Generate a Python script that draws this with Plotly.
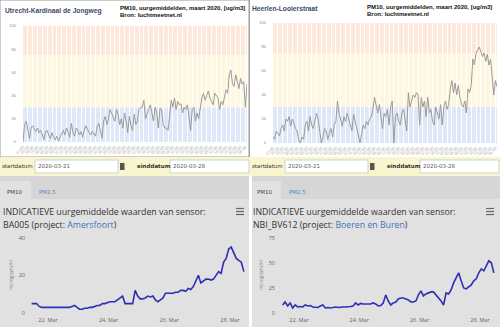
import pandas as pd
import plotly.graph_objects as go

W, H = 500, 327

# PM10 hourly values, luchtmeetnet stations (ug/m3)
utrecht_pm10 = [
    0, 15, 18, 10, 3, 12, 14, 11, 9, 12, 8, 10, 5, 2, 9, 10, 6, 3, 8, 4, 2, 5, 1, 4, 8, 10, 6, 12, 9, 4, 16,
    8, 5, 12, 10, 6, 9, 4, 10, 14, 11, 8, 6, 9, 7, 5, 13, 16, 10, 3, 18,
    22, 15, 20, 28, 25, 22, 18, 28, 24, 15, 20, 12, 25, 18, 8, 22, 14, 10, 24, 15,
    18, 28, 30, 30, 36, 20, 25, 28, 32, 26, 18, 30, 25, 12, 29, 28, 15, 12, 12, 10,
    25, 36, 30, 38, 28, 35, 32, 33, 25, 30, 28, 32, 22, 10, 28, 30, 18, 25, 20, 28,
    38, 42, 36, 40, 44, 38, 35, 32, 42, 40, 38, 28, 35, 32, 40,
    45, 42, 58, 62, 50, 48, 58, 52, 46, 55, 50, 52, 30, 50,
]
heerlen_pm10 = [
    5, 3, 10, 8, 6, 12, 15, 10, 20, 18, 22, 14, 20, 16, 12, 10,
    2, 0, 5, 3, 15, 18, 10, 22, 15, 12, 18, 25, 20, 8, 0,
    5, 12, 10, 3, 8, 12, 5, 15, 18, 35, 25, 20, 14, 22, 18,
    25, 20, 15, 10, 24, 18, 12, 5, 0, 8, 15, 12, 18, 15, 20,
    22, 28, 38, 30, 25, 32, 20, 12, 25, 22, 28, 15, 30, 35, 0,
    22, 25, 18, 15, 25, 28, 20, 10, 42, 30, 35, 40, 38, 42, 40,
    15, 38, 30, 35, 22, 38, 25, 28, 18, 15, 30, 25, 20, 32, 15,
    30, 35, 28, 32, 45, 52, 42, 50, 40, 48, 38, 32, 30, 35, 25,
    45, 42, 48, 70, 65, 75, 78, 80, 76, 72, 75, 68, 74, 65, 70, 55, 40, 52, 47,
]
station_hours = pd.date_range("2020-03-22 12:00", periods=len(utrecht_pm10), freq="h")
station_idx = list(range(len(utrecht_pm10)))
station_tickvals = station_idx[::3]
station_ticktext = [t.strftime("%H:%M") for t in station_hours[::3]]

# Indicative sensor values (microgram/m3), two-hourly
sensor_times = pd.date_range("2020-03-21 11:00", periods=85, freq="2h")
ba005_pm10 = [
    5, 5, 5, 3.5, 3, 3, 3, 3, 3, 3, 3, 3, 3, 3, 3, 3, 3.5, 4, 3, 2,
    2, 2.5, 2.5, 3, 3, 3.5, 4, 4, 5, 5, 5.5, 6, 6, 6, 7, 8, 9, 5, 5, 5,
    5, 12, 9, 7.5, 7.5, 8, 9, 8.5, 9, 7, 6, 7, 8, 10.5, 10.5, 10.5, 10.5, 11, 11, 12,
    12, 11.5, 13, 12.5, 14, 17, 20, 16, 17, 18, 18, 17.5, 18, 20, 22, 21, 27, 29, 34, 35,
    32, 29, 28, 27, 22,
]
bv612_pm10 = [
    8, 11, 7, 10, 5, 8, 6, 6.5, 6, 8, 7, 7.5, 6, 6, 5.5, 7, 8, 5, 5.5, 5,
    5.5, 6, 5.5, 6, 6, 6, 6, 6.5, 7, 10, 8, 9.5, 9, 9, 9.5, 9, 10, 9, 7, 7.5,
    10, 18, 12, 8, 10, 11, 14, 15, 15, 14, 13, 11, 11, 12, 18, 22, 17, 19, 20, 21,
    21, 18, 16, 12, 8, 20, 19, 23, 30, 35, 40, 32, 25, 24, 26, 28, 32, 34, 40, 44,
    42, 47, 52, 50, 40,
]

# Air-quality classes drawn behind the station charts
band_edges = [0, 30, 75, 100]
band_colors = ["#dfe8f8", "#fef7e0", "#fde9dc"]

station_names = ["Utrecht-Kardinaal de Jongweg", "Heerlen-Looierstraat"]
station_title = "PM10, uurgemiddelden, maart 2020, [ug/m3]"
station_source = "Bron: luchtmeetnet.nl"
sensor_ids = ["BA005", "NBI_BV612"]
sensor_projects = ["Amersfoort", "Boeren en Buren"]
start_date, end_date = "2020-03-21", "2020-03-28"


def px(x):
    return x / W


def py(y):
    return 1 - y / H


fig = go.Figure()

fig.add_trace(go.Scatter(x=station_idx, y=utrecht_pm10, mode="lines",
                         line=dict(color="#9a9a9a", width=1), xaxis="x", yaxis="y"))
fig.add_trace(go.Scatter(x=station_idx, y=heerlen_pm10, mode="lines",
                         line=dict(color="#9a9a9a", width=1), xaxis="x2", yaxis="y2"))
fig.add_trace(go.Scatter(x=sensor_times, y=ba005_pm10, mode="lines",
                         line=dict(color="#2f2fb5", width=1.6), xaxis="x3", yaxis="y3"))
fig.add_trace(go.Scatter(x=sensor_times, y=bv612_pm10, mode="lines",
                         line=dict(color="#2f2fb5", width=1.6), xaxis="x4", yaxis="y4"))

tiny = dict(family="Liberation Sans", size=4, color="#8a8a8a")
station_x = dict(range=[0, len(station_idx) - 1], tickmode="array", tickvals=station_tickvals,
                 ticktext=station_ticktext, tickangle=-45, automargin=False,
                 tickfont=dict(family="Liberation Sans", size=4, color="#aaaaaa"),
                 showgrid=True, gridcolor="white", gridwidth=1.2, zeroline=False,
                 showline=False, ticks="", ticklabelstandoff=1)
station_y = dict(range=[0, 100], tickvals=[0, 20, 40, 60, 80, 100], tickfont=tiny,
                 automargin=False, showgrid=False, zeroline=False, showline=False, ticks="",
                 ticklabelstandoff=6)

sensor_font = dict(family="Open Sans", size=5.5, color="#666666")
sensor_x = dict(type="date", tickformat="%d. %b", tick0="2020-03-22", dtick=2 * 86400000,
                tickfont=sensor_font, showgrid=False, zeroline=False, showline=False, ticks="",
                automargin=False, ticklabelstandoff=2)
sensor_y = dict(tickfont=sensor_font, showgrid=False, zeroline=False, showline=False, ticks="",
                automargin=False, ticklabelstandoff=4)

fig.update_layout(
    width=W, height=H, autosize=False, margin=dict(l=0, r=0, t=0, b=0, pad=0),
    paper_bgcolor="white", plot_bgcolor="rgba(0,0,0,0)", showlegend=False,
    xaxis=dict(station_x, domain=[px(23), px(247)], anchor="y"),
    yaxis=dict(station_y, domain=[py(142), py(26)], anchor="x"),
    xaxis2=dict(station_x, domain=[px(273), px(497)], anchor="y2"),
    yaxis2=dict(station_y, domain=[py(143), py(23)], anchor="x2"),
    xaxis3=dict(sensor_x, domain=[px(30), px(247)], anchor="y3",
                range=["2020-03-21 09:45", "2020-03-28 13:30"]),
    yaxis3=dict(sensor_y, domain=[py(313), py(237.7)], anchor="x3", range=[0, 40],
                tickvals=[0, 20, 40]),
    xaxis4=dict(sensor_x, domain=[px(280), px(497)], anchor="y4",
                range=["2020-03-21 08:55", "2020-03-28 13:30"]),
    yaxis4=dict(sensor_y, domain=[py(313), py(237.7)], anchor="x4", range=[0, 75],
                tickvals=[0, 25, 50, 75]),
)

shapes = []


def rect(x0, y0, x1, y1, fill, line=None, lw=0, layer="below"):
    shapes.append(dict(type="rect", xref="paper", yref="paper", x0=px(x0), x1=px(x1),
                       y0=py(y1), y1=py(y0), fillcolor=fill, layer=layer,
                       line=dict(color=line or fill, width=lw)))


# Page blocks: station charts, date bar, sensor panels
rect(0, 0, 249, 157, "white", "#9c9c9c", 1)
rect(250, 0, 500, 157, "white")
shapes.append(dict(type="line", xref="paper", yref="paper", x0=px(249.5), x1=px(249.5),
                   y0=py(157), y1=py(0), line=dict(color="#a0a0a0", width=1), layer="below"))
rect(0, 157, 500, 176, "#f9f6cf")
for off in (0, 250):
    rect(off + 35, 160, off + 118, 173, "white", "#c8c8c8", 0.8)
    rect(off + 170, 160, off + 249, 173, "white", "#c8c8c8", 0.8)
    rect(off + 120, 163, off + 124.5, 170, "#555555")
    rect(off + 0, 176, off + 250, 327, "#d6d6d6")
    rect(off + 0, 199, off + 250, 327, "#e1e1e1")
    rect(off + 0, 181, off + 31, 199, "#e1e1e1")
    for yy in (208.5, 211.5, 214.5):
        shapes.append(dict(type="line", xref="paper", yref="paper", x0=px(off + 236),
                           x1=px(off + 244), y0=py(yy), y1=py(yy),
                           line=dict(color="#666666", width=1.2)))
rect(249, 176, 252, 327, "white")

# Air-quality bands inside the station charts
for ax in ("", "2"):
    for lo, hi, col in zip(band_edges[:-1], band_edges[1:], band_colors):
        shapes.append(dict(type="rect", xref=f"x{ax} domain", yref=f"y{ax}", x0=0, x1=1,
                           y0=lo, y1=hi, fillcolor=col, line=dict(width=0), layer="below"))

fig.update_layout(shapes=shapes)

ann = []


def text(x, y, s, size, color="#333333", family="Liberation Sans", xanchor="left", **kw):
    ann.append(dict(x=px(x), y=py(y), xref="paper", yref="paper", text=s, showarrow=False,
                    xanchor=xanchor, yanchor="middle", borderpad=0,
                    font=dict(family=family, size=size, color=color), **kw))


for off, name in zip((0, 250), station_names):
    text(off + 4 if off == 0 else off + 1, 11 if off == 0 else 8, f"<b>{name}</b>", 6.7,
         "#3b4a6b")
    text(off + 119 if off == 0 else off + 116, 8 if off == 0 else 7,
         f"<b>{station_title}</b>", 6.0, "#111111")
    text(off + 119 if off == 0 else off + 116, 15 if off == 0 else 14,
         f"<b>{station_source}</b>", 6.0, "#111111")

for i, off in enumerate((0, 250)):
    text(off + 1, 166.5, "startdatum", 5.5, "#333333", "DejaVu Sans")
    text(off + 37, 166.5, start_date, 5.5, "#555555", "DejaVu Sans")
    text(off + 136, 166.5, "<b>einddatum</b>", 5.5, "#333333", "DejaVu Sans")
    text(off + 172, 166.5, end_date, 5.5, "#555555", "DejaVu Sans")
    text(off + 6, 191.5, "PM10", 5.5, "#444444", "DejaVu Sans")
    text(off + 38, 191.5, "PM2.5", 5.5, "#4a86c8", "DejaVu Sans")
    text(off + 2, 211.5, "INDICATIEVE uurgemiddelde waarden van sensor:", 8.75, "#333333",
         "Open Sans")
    text(off + 2, 225, f"{sensor_ids[i]} (project: <span style='color:#3d74b8'>"
         f"{sensor_projects[i]}</span>)", 8.75, "#333333", "Open Sans")
    text(off + 11, 275, "microgram/m³", 4.5, "#777777", "Open Sans",
         xanchor="center", textangle=-90)

fig.update_layout(annotations=ann)

fig.write_html("out.html")
